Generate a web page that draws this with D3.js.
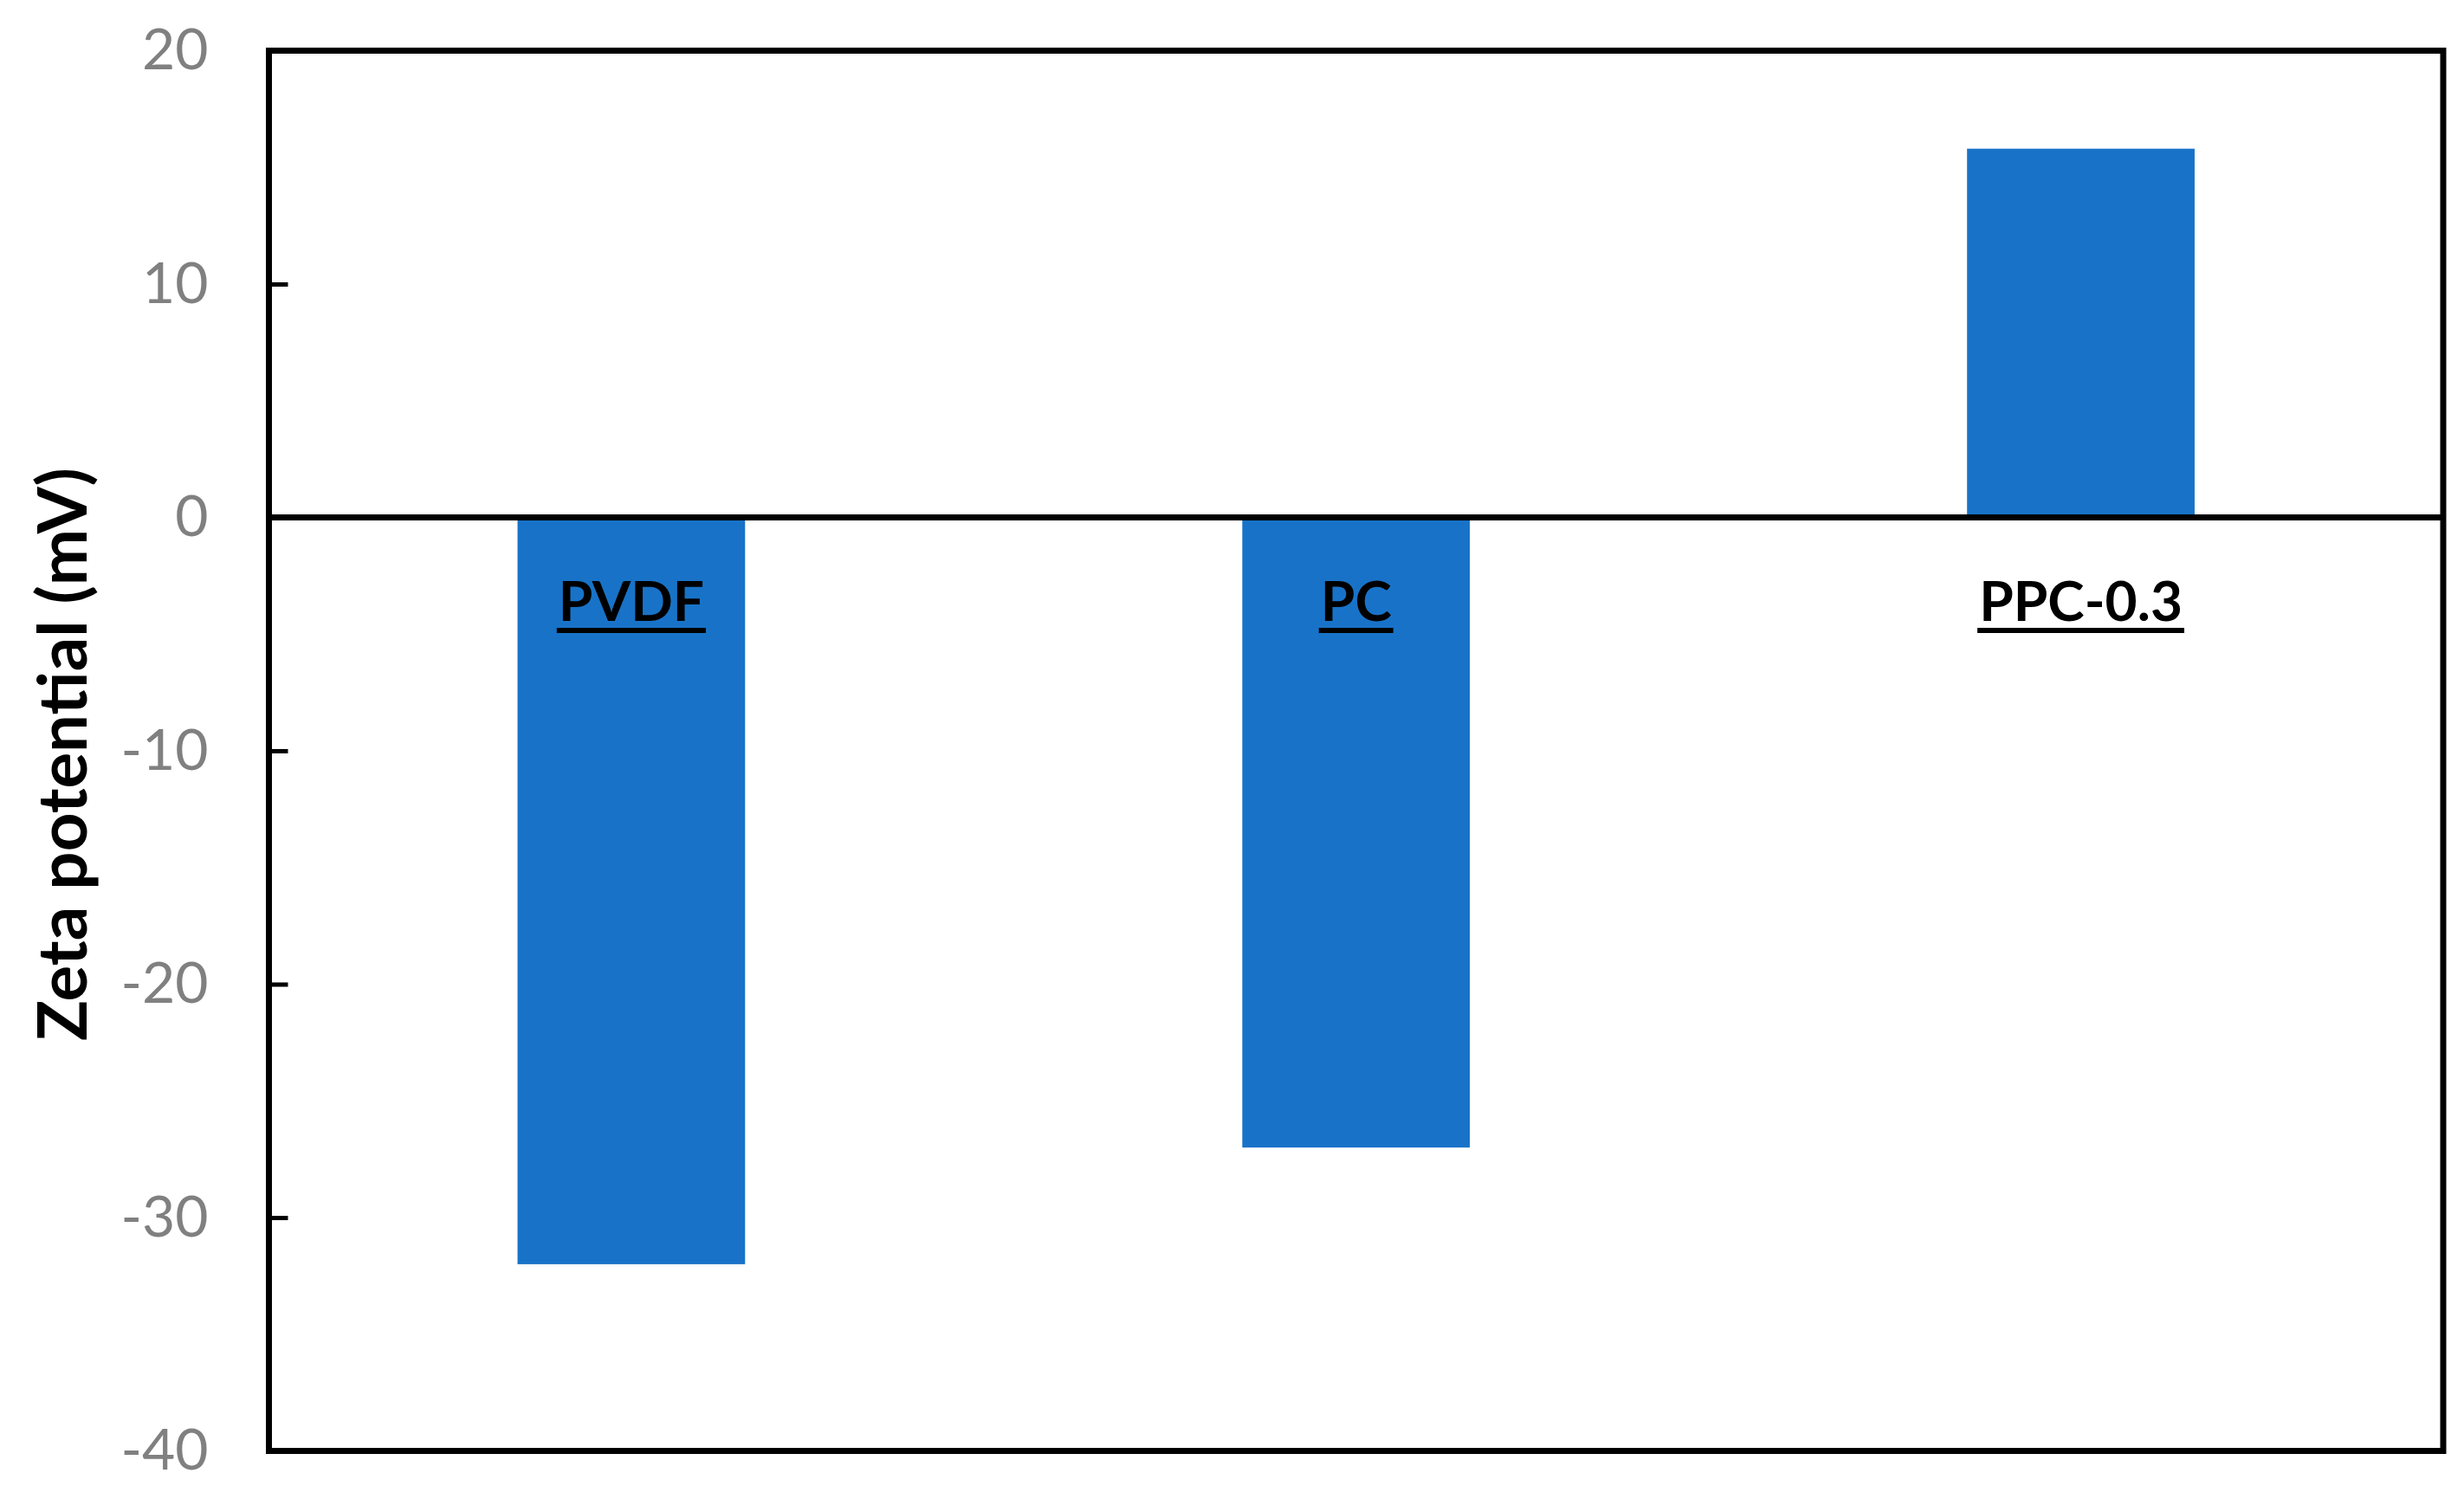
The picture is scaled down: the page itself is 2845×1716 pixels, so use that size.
<!DOCTYPE html>
<html>
<head>
<meta charset="utf-8">
<script src="https://cdn.jsdelivr.net/npm/d3@7"></script>
<style>
  html, body { margin: 0; padding: 0; background: #fff; }
  svg { display: block; }
</style>
</head>
<body>
<svg id="chart" width="2845" height="1716"></svg>
<script>
// ---- data ----
const categories = ["PVDF", "PC", "PPC-0.3"];
const zetaValues = [-32, -27, 15.8];
const yTicks = [20, 10, 0, -10, -20, -30, -40];
const yTitle = "Zeta potential (mV)";

// ---- layout ----
const W = 2845, H = 1716;
const margin = { left: 310.5, right: W - 2821, top: 58.5, bottom: H - 1675.5 };
const pw = W - margin.left - margin.right;
const ph = H - margin.top - margin.bottom;

const svg = d3.select("#chart");
const g = svg.append("g").attr("transform", `translate(${margin.left},${margin.top})`);

const x = d3.scaleBand()
  .domain(categories)
  .range([0, pw])
  .paddingInner(0.686)
  .paddingOuter(0.343);

const y = d3.scaleLinear().domain([-40, 20]).range([ph, 0]);

// bars
g.selectAll("rect.bar")
  .data(categories.map((c, i) => ({ c, v: zetaValues[i] })))
  .enter().append("rect")
  .attr("class", "bar")
  .attr("x", d => x(d.c))
  .attr("width", x.bandwidth())
  .attr("y", d => y(Math.max(0, d.v)))
  .attr("height", d => Math.abs(y(d.v) - y(0)))
  .attr("fill", "#1873C8");

// y axis
const yAxis = d3.axisLeft(y)
  .tickValues(yTicks)
  .tickSize(-22)
  .tickPadding(70)
  .tickFormat(d => String(d));

const ya = g.append("g").call(yAxis);
ya.select(".domain").remove();
ya.selectAll(".tick line").attr("stroke", "#000").attr("stroke-width", 5);
ya.selectAll(".tick text")
  .attr("fill", "#808080")
  .style("font-family", "Lato, 'Open Sans', sans-serif")
  .style("font-size", "66px");

// zero line
g.append("line")
  .attr("x1", 0).attr("x2", pw)
  .attr("y1", y(0)).attr("y2", y(0))
  .attr("stroke", "#000").attr("stroke-width", 7);

// frame
g.append("rect")
  .attr("x", 0).attr("y", 0)
  .attr("width", pw).attr("height", ph)
  .attr("fill", "none")
  .attr("stroke", "#000").attr("stroke-width", 7);

// category labels (bold, underlined)
const labels = g.selectAll("g.catlabel")
  .data(categories)
  .enter().append("g")
  .attr("class", "catlabel");

labels.append("text")
  .attr("x", d => x(d) + x.bandwidth() / 2)
  .attr("y", 717 - margin.top)
  .attr("text-anchor", "middle")
  .style("font-family", "Lato, 'Open Sans', sans-serif")
  .style("font-weight", "bold")
  .style("font-size", "64px")
  .attr("fill", "#000")
  .text(d => d);

labels.each(function () {
  const t = d3.select(this).select("text");
  const bb = t.node().getBBox();
  d3.select(this).append("rect")
    .attr("x", bb.x - 2)
    .attr("y", 725 - margin.top)
    .attr("width", bb.width + 4)
    .attr("height", 6)
    .attr("fill", "#000");
});

// y title
svg.append("text")
  .attr("transform", `translate(100,871) rotate(-90)`)
  .attr("text-anchor", "middle")
  .style("font-family", "Lato, 'Open Sans', sans-serif")
  .style("font-weight", "bold")
  .style("font-size", "78px")
  .attr("fill", "#000")
  .text(yTitle);
</script>
</body>
</html>
